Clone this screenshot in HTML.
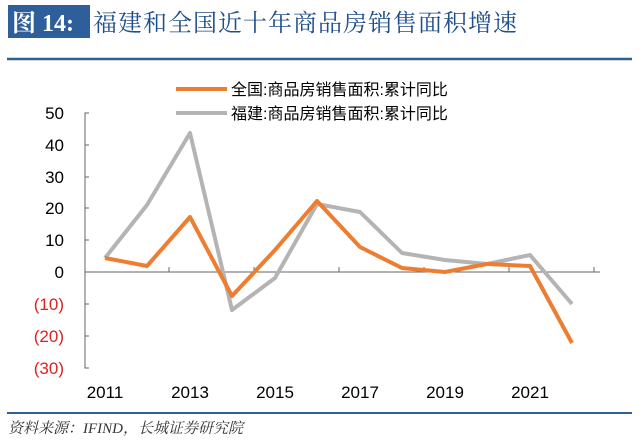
<!DOCTYPE html>
<html><head><meta charset="utf-8"><style>
body{margin:0;width:640px;height:440px;background:#fff;overflow:hidden;font-family:"Liberation Sans","Noto Sans CJK SC",sans-serif}
</style></head><body>
<svg width="640" height="440" xmlns="http://www.w3.org/2000/svg">
<rect x="8" y="5" width="82" height="33" fill="#2f5f9a"/>
<text x="12" y="31" font-family="Liberation Serif,Noto Serif CJK SC,serif" font-size="24" font-weight="bold" fill="#fff">图 14:</text>
<text x="93" y="31" font-family="Noto Serif CJK SC,serif" font-size="24" letter-spacing="1" fill="#1f4e8c">福建和全国近十年商品房销售面积增速</text>
<line x1="7" y1="59" x2="632" y2="59" stroke="#2f5f9a" stroke-width="2.5"/>
<line x1="7" y1="413" x2="632" y2="413" stroke="#2f5f9a" stroke-width="2"/>
<text x="8" y="433" font-family="Liberation Serif,Noto Serif CJK SC,serif" font-style="italic" font-size="15" fill="#333">资料来源：IFIND，长城证券研究院</text>
<line x1="176" y1="89" x2="227" y2="89" stroke="#ed7d31" stroke-width="4"/>
<line x1="176" y1="113" x2="227" y2="113" stroke="#b4b4b4" stroke-width="4"/>
<g font-size="16" fill="#000"><text x="231" y="95">全国:商品房销售面积:累计同比</text><text x="231" y="119">福建:商品房销售面积:累计同比</text></g>
<g stroke="#666" stroke-width="1" fill="none"><path d="M89 113H85V368H89M85 145H89M85 177H89M85 208H89M85 240H89M85 304H89M85 336H89"/><line x1="85" y1="272" x2="600" y2="272"/>
<path d="M169 272V267M254 272V267M339 272V267M424 272V267M509 272V267M594 272V267"/></g>
<g font-size="17" text-anchor="end"><text x="64" y="119">50</text><text x="64" y="151">40</text><text x="64" y="183">30</text><text x="64" y="214">20</text><text x="64" y="246">10</text><text x="64" y="278">0</text>
<g fill="#e02020"><text x="64" y="310">(10)</text><text x="64" y="342">(20)</text><text x="64" y="374">(30)</text></g></g>
<g font-size="17" text-anchor="middle"><text x="105" y="398">2011</text><text x="190" y="398">2013</text><text x="275" y="398">2015</text><text x="360" y="398">2017</text><text x="445" y="398">2019</text><text x="530" y="398">2021</text></g>
<polyline fill="none" stroke="#b4b4b4" stroke-width="4" stroke-linejoin="round" points="105,258 147,205 190,133 232,310 275,278 317,204 360,212 402,253 445,260 487,264 530,255 572,304"/>
<polyline fill="none" stroke="#ed7d31" stroke-width="4" stroke-linejoin="round" points="105,258 147,266 190,217 232,296 275,250 317,201 360,247 402,268 445,272 487,264 530,266 572,343"/>
</svg>
</body></html>
